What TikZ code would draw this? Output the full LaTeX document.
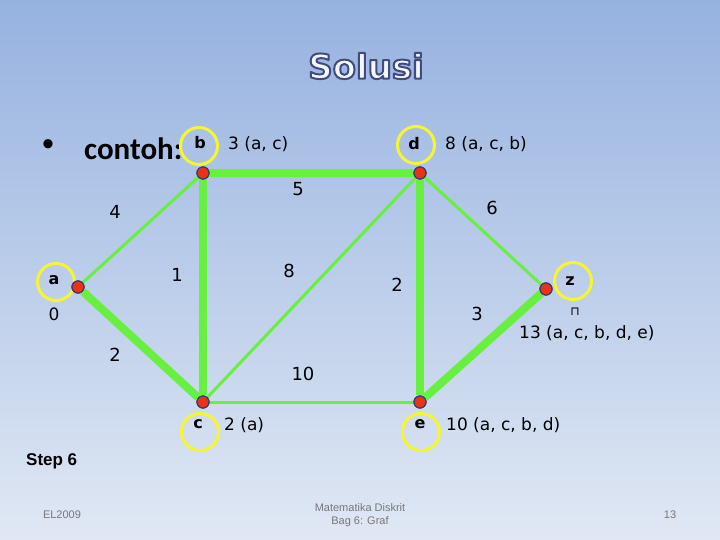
\documentclass[tikz,border=0pt]{standalone}
\usepackage{fontspec}
\setmainfont{DejaVu Sans}
\newfontfamily\calibf{Carlito}
\newfontfamily\arialf{Liberation Sans}
\definecolor{bgtop}{RGB}{150,178,224}
\definecolor{bgbot}{RGB}{224,232,244}
\definecolor{edgegreen}{RGB}{104,240,64}
\definecolor{dotred}{RGB}{235,50,20}
\definecolor{dotrim}{RGB}{60,60,110}
\definecolor{ringyellow}{RGB}{245,245,50}
\definecolor{footgray}{RGB}{120,120,120}
\newcommand{\outlinedtext}[1]{\special{pdf:literal q}\special{pdf:literal direct 2 Tr 2 w 1 j 0.25 0.3 0.5 RG 0.96 0.97 1 rg}#1\special{pdf:literal direct 0 Tr}\special{pdf:literal Q}}
\tikzset{
  heavy/.style={line width=8pt, draw=edgegreen},
  light/.style={line width=3pt, draw=edgegreen},
  vdot/.style={circle, fill=dotred, draw=dotrim, line width=1.2pt, minimum size=12pt, inner sep=0pt},
  ring/.style={circle, draw=ringyellow, line width=3pt, minimum size=37pt, inner sep=0pt},
  vname/.style={font=\fontsize{16}{16}\selectfont\bfseries, inner sep=0pt},
  dist/.style={font=\fontsize{17}{17}\selectfont, anchor=west, inner sep=0pt},
  wlab/.style={font=\fontsize{18}{18}\selectfont, inner sep=0pt},
  foot/.style={font=\arialf\fontsize{11}{13}\selectfont, text=footgray, align=center, inner sep=0pt}
}
\begin{document}
\begin{tikzpicture}[x=1pt,y=-1pt]
\useasboundingbox (0,0) rectangle (720,540);
\shade[top color=bgtop, bottom color=bgbot] (0,0) rectangle (720,540);

% title
\node[font=\fontsize{34}{34}\selectfont\bfseries] (title) at (366,66) {\outlinedtext{Solusi}};

% bullet
\node[font=\calibf\fontsize{26}{26}\selectfont, anchor=center] (bul) at (48,146) {•};
\node[font=\calibf\fontsize{31}{31}\selectfont\bfseries, anchor=west, inner sep=0pt] (contoh) at (84,149) {contoh:};

% label rings
\node[ring, fill=bgtop!72!bgbot] (rb) at (199,146) {};
\node[ring] (rd) at (416,145) {};
\node[ring] (ra) at (56,282) {};
\node[ring] (rz) at (573,281) {};
\node[ring] (rc) at (200,432) {};
\node[ring] (re) at (421,432) {};

\node[vname] (nb) at (200,143) {b};
\node[vname] (nd) at (414,144) {d};
\node[vname] (na) at (54,280) {a};
\node[vname] (nz) at (570,281) {z};
\node[vname] (nc) at (198,424) {c};
\node[vname] (ne) at (420,424) {e};

% vertices
\node[vdot] (a) at (78,287) {};
\node[vdot] (b) at (203,173) {};
\node[vdot] (d) at (420,173) {};
\node[vdot] (z) at (546,289) {};
\node[vdot] (c) at (203,402) {};
\node[vdot] (e) at (420,402) {};

% edges
\draw[light] (a) -- (b);
\draw[light] (c) -- (d);
\draw[light] (c) -- (e);
\draw[light] (d) -- (z);
\draw[heavy] (a) -- (c);
\draw[heavy] (b) -- (c);
\draw[heavy] (b) -- (d);
\draw[heavy] (d) -- (e);
\draw[heavy] (e) -- (z);
\foreach \v in {a,b,c,d,e,z} \node[vdot] at (\v) {};

% weights
\node[wlab] (w5) at (298,189) {5};
\node[wlab] (w6) at (492,208) {6};
\node[wlab] (w4) at (115,212) {4};
\node[wlab] (w1) at (177,275) {1};
\node[wlab] (w8) at (289,271) {8};
\node[wlab] (w2a) at (397,285) {2};
\node[wlab] (w3) at (477,314) {3};
\node[wlab] (w2b) at (115,355) {2};
\node[wlab] (w10) at (303,374) {10};

% distances
\node[dist] (db) at (228,144) {3 (a, c)};
\node[dist] (dd) at (445,144) {8 (a, c, b)};
\node[dist, anchor=center] (da) at (54,314) {0};
\node[dist, font=\fontsize{12}{12}\selectfont, anchor=center] (dz0) at (575,312) {⊓};
\node[dist] (dz) at (519,333) {13 (a, c, b, d, e)};
\node[dist] (dc) at (224,425) {2 (a)};
\node[dist] (de) at (446,425) {10 (a, c, b, d)};

% step
\node[font=\arialf\fontsize{17}{17}\selectfont\bfseries, anchor=west, inner sep=0pt] (step) at (26,461) {Step 6};

% footer
\node[foot] (f1) at (62,515) {EL2009};
\node[foot] (f2) at (360,515) {Matematika Diskrit\\Bag 6: Graf};
\node[foot] (f3) at (670,515) {13};
\end{tikzpicture}
\end{document}
